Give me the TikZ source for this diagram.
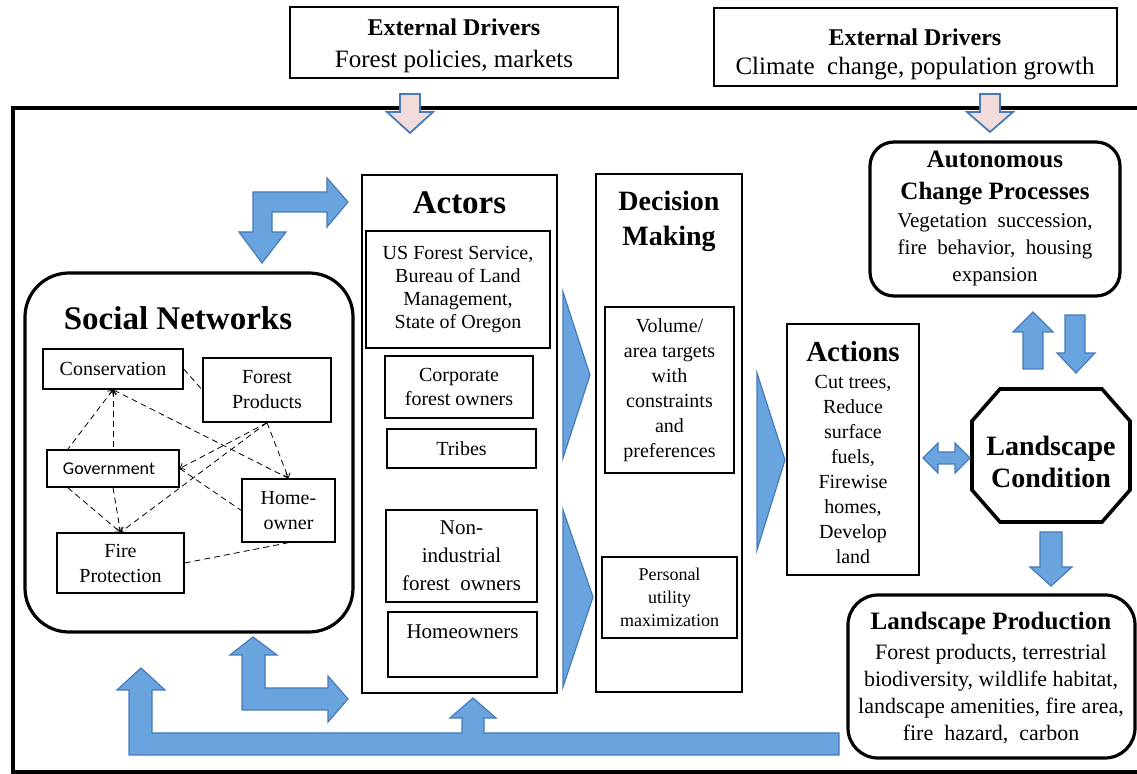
\documentclass[tikz,border=0pt]{standalone}
\usepackage{fontspec}
\setmainfont{Liberation Serif}
\newfontfamily\calibri{Carlito}
\usepackage{tikz}
\usetikzlibrary{positioning,fit,arrows.meta}

\definecolor{arrowfill}{RGB}{106,164,222}
\definecolor{arrowline}{RGB}{72,122,186}
\definecolor{pinkfill}{RGB}{242,220,219}
\newcommand{\setfs}[2]{\fontsize{#1pt}{#2pt}\selectfont}

\begin{document}
\begin{tikzpicture}[x=0.5pt, y=-0.5pt,
  box/.style={draw, line width=1.3pt, inner sep=0pt},
  subbox/.style={draw, line width=0.7pt, inner sep=0pt},
  rbox/.style={draw, line width=1.6pt, rounded corners=12pt, inner sep=0pt},
  heading/.style={font=\bfseries\setfs{14}{17.5}, align=center, inner sep=0pt},
  txt/.style={align=center, inner sep=0pt, font=\setfs{10}{12.5}},
  blk/.style={fill=arrowfill, draw=arrowline, line width=0.6pt},
  inarrow/.style={fill=pinkfill, draw=arrowline, line width=0.9pt},
  link/.style={line width=0.4pt, dash pattern=on 3pt off 2pt, >={Straight Barb[length=2pt,width=3.5pt]}}]
  \useasboundingbox (0,0) rectangle (1137,774);

  % external drivers
  \node[draw, line width=0.6pt, inner sep=0pt, fit={(290,7) (618,78)}] (ext1) {};
  \node[heading, font=\bfseries\setfs{12}{14}] at (454,27) {External Drivers};
  \node[txt, font=\setfs{12.5}{14}] at (454,61) {Forest policies, markets};
  \node[draw, line width=0.6pt, inner sep=0pt, fit={(714,8) (1117,86)}] (ext2) {};
  \node[heading, font=\bfseries\setfs{12}{14}] at (915,37) {External Drivers};
  \node[txt, font=\setfs{12.5}{14}] at (915,69) {Climate\ \ change, population growth};

  \draw[line width=1.6pt] (1137,108) -- (13,108) -- (13,772) -- (1137,772);

  \draw[inarrow] (400,94) -- (420,94) -- (420,112) -- (433,112) -- (410,133) -- (387,112) -- (400,112) -- cycle;
  \draw[inarrow] (980,94) -- (1000,94) -- (1000,112) -- (1013,112) -- (990,132) -- (967,112) -- (980,112) -- cycle;

  % social networks
  \node[rbox, rounded corners=22pt, fit={(25,273) (353,632)}] (sn) {};
  \node[heading, font=\bfseries\setfs{16.5}{19}] at (178,318) {Social Networks};
  \node[subbox, fit={(43,349) (183,389)}, label={[txt]center:Conservation}] (cons) {};
  \node[subbox, fit={(203,358) (331,422)}, label={[txt]center:{Forest\\Products}}] (fp) {};
  \node[subbox, fit={(47,450) (179,487)}, label={[txt, font=\calibri\setfs{9}{11}, xshift=-2pt]center:Government}] (gov) {};
  \node[subbox, fit={(242,479) (335,542)}, label={[txt]center:{Home-\\owner}}] (home) {};
  \node[subbox, fit={(57,533) (184,593)}, label={[txt]center:{Fire\\Protection}}] (fire) {};

  \path[link] (cons.east) edge (fp.west);
  \path[link] (cons.south) edge[<-] (gov.157) edge[<-] (gov.north) edge[<->] (home.north);
  \path[link] (fp.south) edge[->] (gov.east) edge[->] (fire.north) edge[->] (home.north);
  \path[link] (gov.east) edge (home.west);
  \path[link] (gov.203) edge[->] (fire.north);
  \path[link] (gov.south) edge[->] (fire.north);
  \path[link] (fire.east) edge (home.south);

  % actors
  \node[box, fit={(362,175) (557,693)}] (act) {};
  \node[heading, font=\bfseries\setfs{16.5}{19}, below=9pt of act.north] {Actors};
  \node[subbox, fit={(366,231) (550,348)}, label={[txt, font=\setfs{10}{11.5}]center:{US Forest Service,\\Bureau\ of Land\\Management,\\State of Oregon}}] (usfs) {};
  \node[subbox, fit={(385,356) (533,418)}, label={[txt, font=\setfs{10}{12}]center:{Corporate\\forest owners}}] (corp) {};
  \node[subbox, fit={(387,429) (536,468)}, label={[txt]center:Tribes}] (tribes) {};
  \node[subbox, fit={(386,510) (537,602)}, label={[txt, font=\setfs{10.5}{14}]center:{Non-\\industrial\\forest\ \ owners}}] (nonind) {};
  \node[subbox, fit={(388,612) (537,677)}] (homeow) {};
  \node[txt, font=\setfs{10.5}{12.5}, below=6.5pt of homeow.north] {Homeowners};

  % decision making
  \node[box, fit={(596,174) (742,692)}] (dm) {};
  \node[heading] at (669,221) {Decision\\Making};
  \node[subbox, fit={(605,307) (734,473)}, label={[txt]center:{Volume/\\area targets\\with\\constraints\\and\\preferences}}] (vol) {};
  \node[subbox, fit={(602,557) (737,638)}, label={[txt, font=\setfs{9}{11.5}]center:{Personal\\utility\\maximization}}] (pers) {};

  \draw[blk] (563,292) -- (590,375) -- (563,458) -- cycle;
  \draw[blk] (563,510) -- (593,597) -- (563,687) -- cycle;
  \draw[blk] (757,373) -- (785,460) -- (757,550) -- cycle;

  % actions and landscape
  \node[box, fit={(787,324) (919,575)}] (actn) {};
  \node[heading, font=\bfseries\setfs{14.5}{17}] at (853,352) {Actions};
  \node[txt] at (853,469) {Cut trees,\\Reduce\\surface\\fuels,\\Firewise\\homes,\\Develop\\land};

  \draw[line width=1.8pt] (1000,389) -- (1102,389) -- (1130,421) -- (1130,490) -- (1102,522)
    -- (1000,522) -- (972,490) -- (972,421) -- cycle;
  \node[heading, font=\bfseries\setfs{14}{16}] (lc) at (1051,462) {Landscape\\Condition};

  \node[rbox, fit={(870,142) (1120,296)}] (acp) {};
  \node[heading, font=\bfseries\setfs{12.5}{16}] at (995,178) {Autonomous\\Change Processes};
  \node[txt, font=\setfs{10.5}{13.5}] at (995,250) {Vegetation\ \ succession,\\fire\ \ behavior,\ \ housing\\expansion};

  \node[rbox, rounded corners=15pt, fit={(848,595) (1135,758)}] (lp) {};
  \node[heading, font=\bfseries\setfs{12.5}{15}] at (991,623) {Landscape Production};
  \node[txt, font=\setfs{11}{13.5}] at (991,694) {Forest products, terrestrial\\biodiversity,\ wildlife\ habitat,\\landscape\ amenities,\ fire\ area,\\fire\ \ hazard,\ \ carbon};

  % block arrows
  \draw[blk] (923,458) -- (938,443) -- (938,452) -- (955,452) -- (955,443) -- (970,458)
    -- (955,473) -- (955,464) -- (938,464) -- (938,473) -- cycle;
  \draw[blk] (1023,369) -- (1023,332) -- (1013,332) -- (1033,312) -- (1053,332) -- (1043,332) -- (1043,369) -- cycle;
  \draw[blk] (1065,315) -- (1085,315) -- (1085,353) -- (1095,353) -- (1076,373) -- (1057,353) -- (1065,353) -- cycle;
  \draw[blk] (1040,532) -- (1062,532) -- (1062,567) -- (1072,567) -- (1051,586) -- (1030,567) -- (1040,567) -- cycle;

  \draw[blk] (262,263) -- (286,232) -- (272,232) -- (272,212) -- (327,212) -- (327,227) -- (348,202)
    -- (327,178) -- (327,192) -- (253,192) -- (253,232) -- (239,232) -- cycle;
  \draw[blk] (242,710) -- (242,655) -- (230,655) -- (253,637) -- (277,655) -- (265,655) -- (265,688)
    -- (328,688) -- (328,676) -- (348,699) -- (328,722) -- (328,710) -- cycle;
  \draw[blk] (129,755) -- (129,690) -- (117,690) -- (141,668) -- (165,690) -- (152,690) -- (152,733)
    -- (462,733) -- (462,718) -- (450,718) -- (473,698) -- (496,718) -- (484,718) -- (484,733)
    -- (839,733) -- (839,755) -- cycle; % feedback from landscape production
\end{tikzpicture}
\end{document}
